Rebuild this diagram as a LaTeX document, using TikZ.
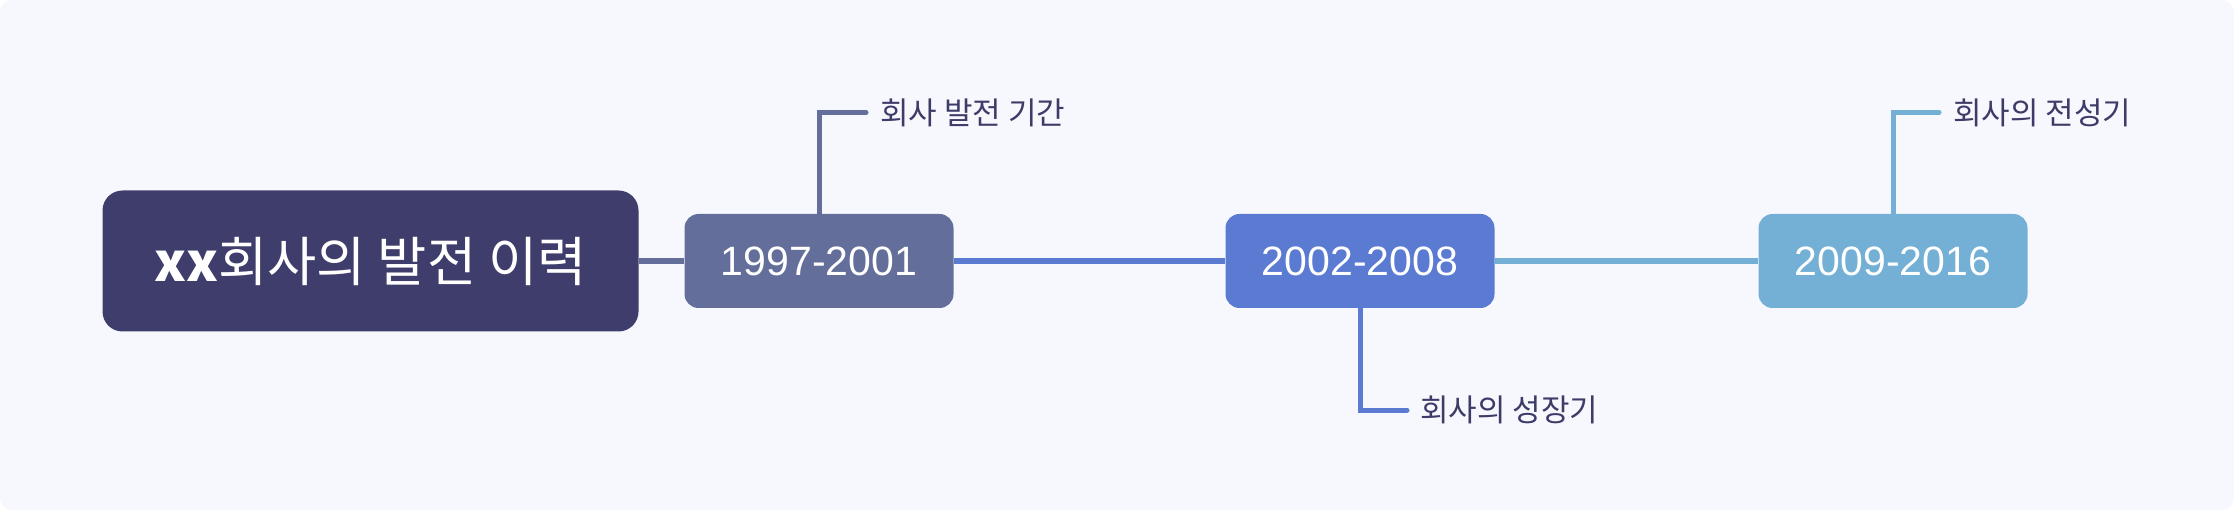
\documentclass[tikz,border=0pt]{standalone}
\usepackage{fontspec}
\setmainfont{Liberation Sans}
\newfontfamily\kr{Noto Sans CJK KR}
\definecolor{bgc}{HTML}{F7F8FD}
\definecolor{cmain}{HTML}{3F3D6B}
\definecolor{cone}{HTML}{636E9A}
\definecolor{ctwo}{HTML}{5B7BD3}
\definecolor{cthree}{HTML}{74B0D5}
\definecolor{ctext}{HTML}{3D3B68}
\tikzset{
  mainbox/.style={fill=cmain, text=white, rounded corners=20pt, inner sep=0pt,
    minimum width=536pt, minimum height=141pt, font=\kr\fontsize{53.5}{60}\selectfont},
  datebox/.style={rounded corners=14pt, inner sep=0pt, text=white,
    minimum width=269pt, minimum height=94pt, font=\fontsize{41}{47}\selectfont},
  conn/.style={line width=5.5pt},
  branch/.style={line width=5pt, line cap=round},
  lbl/.style={anchor=west, inner sep=0pt, text=ctext, font=\kr\fontsize{31}{36}\selectfont}
}
\begin{document}
\begin{tikzpicture}[x=1pt,y=-1pt]
\useasboundingbox (0,0) rectangle (2234,510);
\fill[bgc, rounded corners=12pt] (0,0) rectangle (2234,510);

\node[mainbox] (m) at (370.5,261) {{\bfseries xx}회사의 발전 이력};
\node[datebox, fill=cone] (n1) at (819,261) {1997-2001};
\node[datebox, fill=ctwo] (n2) at (1360,261) {2002-2008};
\node[datebox, fill=cthree] (n3) at (1893,261) {2009-2016};

\draw[conn, cone] (m.east) -- (n1.west);
\draw[conn, ctwo] (n1.east) -- (n2.west);
\draw[conn, cthree] (n2.east) -- (n3.west);

\node[lbl] (t1) at (880,112.5) {회사 발전 기간};
\node[lbl] (t2) at (1420,410) {회사의 성장기};
\node[lbl] (t3) at (1953,112.5) {회사의 전성기};

\coordinate (e1) at ([xshift=-14pt]t1.west);
\coordinate (e2) at ([xshift=-13pt]t2.west);
\coordinate (e3) at ([xshift=-14pt]t3.west);

\draw[branch, cone] (n1.north) |- (e1);
\draw[branch, ctwo] (n2.south) |- (e2);
\draw[branch, cthree] (n3.north) |- (e3);
\end{tikzpicture}
\end{document}
